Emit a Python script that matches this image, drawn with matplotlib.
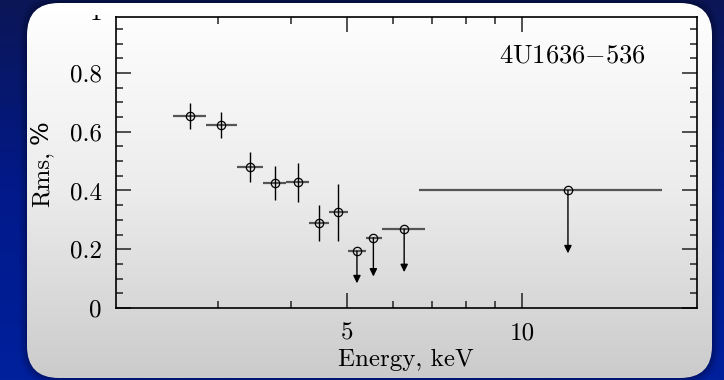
import numpy as np
import matplotlib
matplotlib.use("Agg")
from matplotlib import pyplot as plt
from matplotlib.patches import FancyBboxPatch, Rectangle
from matplotlib.colors import LinearSegmentedColormap
from matplotlib.ticker import FixedLocator, FixedFormatter, NullFormatter, MultipleLocator
from matplotlib.transforms import blended_transform_factory

# detections: energy bin (keV) and rms (%)
energy = [2.68, 3.04, 3.40, 3.76, 4.12, 4.48, 4.83]
energy_lo = [2.51, 2.86, 3.23, 3.59, 3.93, 4.30, 4.66]
energy_hi = [2.86, 3.23, 3.59, 3.93, 4.30, 4.66, 5.01]
rms = [0.654, 0.623, 0.480, 0.427, 0.429, 0.289, 0.326]
rms_lo = [0.610, 0.580, 0.429, 0.368, 0.362, 0.228, 0.229]
rms_hi = [0.697, 0.668, 0.531, 0.484, 0.495, 0.351, 0.423]

# upper limits
ul_energy = [5.20, 5.55, 6.27, 12.0]
ul_lo = [5.01, 5.38, 5.74, 6.65]
ul_hi = [5.38, 5.74, 6.81, 17.4]
ul_rms = [0.193, 0.239, 0.269, 0.400]
ul_tip = [0.084, 0.107, 0.122, 0.186]

x_major = [5, 10]
x_major_labels = ["5", "10"]
x_minor = [3, 4, 6, 7, 8, 9]
y_major = [0, 0.2, 0.4, 0.6, 0.8]
y_major_labels = ["0", "0.2", "0.4", "0.6", "0.8"]

plt.rcParams["font.family"] = "cmr10"
plt.rcParams["mathtext.fontset"] = "cm"
plt.rcParams["axes.formatter.use_mathtext"] = True
FS = 18

fig = plt.figure(figsize=(7.24, 3.8), dpi=100)

# slide background + rounded panel
bg = fig.add_axes([0, 0, 1, 1], zorder=0)
bg.set_xlim(0, 724)
bg.set_ylim(380, 0)
bg.axis("off")
grad = np.linspace(0, 1, 256).reshape(-1, 1)
blue = LinearSegmentedColormap.from_list("blue", ["#0b1656", "#02198a", "#00209c"])
bg.imshow(grad, cmap=blue, extent=(0, 724, 380, 0), aspect="auto", zorder=0)

for i, a in enumerate([0.10, 0.08, 0.06, 0.04]):
    p = 2 + 2 * i
    sh = FancyBboxPatch((27 - p, 3 - p), 685 + 2 * p, 375 + 2 * p,
                        boxstyle=f"round,pad=0,rounding_size={32 + p}",
                        fc="black", ec="none", alpha=a, zorder=1)
    bg.add_patch(sh)

panel = FancyBboxPatch((27, 3), 685, 375, boxstyle="round,pad=0,rounding_size=32",
                       fc="none", ec="none", zorder=2)
bg.add_patch(panel)
grey = LinearSegmentedColormap.from_list("grey", ["#ffffff", "#ececec", "#cbcbcb"])
im = bg.imshow(grad, cmap=grey, extent=(27, 712, 378, 3), aspect="auto", zorder=3)
im.set_clip_path(panel)

# plot
ax = fig.add_axes([0.160, 0.1895, 0.8025, 0.7655], zorder=2)
ax.patch.set_alpha(0)
ax.set_xscale("log")
ax.set_xlim(2, 20)
ax.set_ylim(0, 0.99)

e = np.array(energy)
r = np.array(rms)
ax.errorbar(e, r, xerr=[e - np.array(energy_lo), np.array(energy_hi) - e],
            fmt="none", ecolor="#555555", elinewidth=1.6, capsize=0)
ax.errorbar(e, r, yerr=[r - np.array(rms_lo), np.array(rms_hi) - r],
            fmt="none", ecolor="black", elinewidth=1.0, capsize=0)
ax.plot(e, r, "o", mfc="none", mec="black", ms=6, mew=0.9)

ue = np.array(ul_energy)
ax.errorbar(ue, ul_rms, xerr=[ue - np.array(ul_lo), np.array(ul_hi) - ue],
            fmt="none", ecolor="#555555", elinewidth=1.6, capsize=0)
for xe, y0, y1 in zip(ul_energy, ul_rms, ul_tip):
    ax.annotate("", xy=(xe, y1), xytext=(xe, y0),
                arrowprops=dict(arrowstyle="-|>,head_length=0.45,head_width=0.22",
                                color="black", lw=1.0, shrinkA=0, shrinkB=0))
ax.plot(ue, ul_rms, "o", mfc="none", mec="black", ms=6, mew=0.9)

ax.xaxis.set_major_locator(FixedLocator(x_major))
ax.xaxis.set_major_formatter(FixedFormatter(x_major_labels))
ax.xaxis.set_minor_locator(FixedLocator(x_minor))
ax.xaxis.set_minor_formatter(NullFormatter())
ax.yaxis.set_major_locator(FixedLocator(y_major))
ax.yaxis.set_major_formatter(FixedFormatter(y_major_labels))
ax.yaxis.set_minor_locator(MultipleLocator(0.05))

ax.tick_params(which="both", direction="in", top=True, right=True,
               width=1.1, color="#222222", labelsize=FS, pad=10)
ax.tick_params(which="major", length=11)
ax.tick_params(which="minor", length=5)
for s in ax.spines.values():
    s.set_linewidth(1.2)

# top tick label, cut off by the panel edge as in the slide
trans = blended_transform_factory(ax.transAxes, ax.transData)
top = fig.text(-0.024, 1.0, "1", transform=trans, ha="right", va="center",
               fontsize=FS)
top.set_clip_path(Rectangle((0, 0), 1, 1 - 15 / 380, transform=fig.transFigure))

ax.set_xlabel("Energy, keV", fontsize=FS)
ax.xaxis.set_label_coords(0.499, -0.14)

# y label in two pieces so the % sits on the baseline
ax.text(-0.108, 0.347, "Rms,", transform=ax.transAxes, rotation=90,
        ha="right", va="bottom", fontsize=FS)
ax.text(-0.108, 0.645, "%", transform=ax.transAxes, rotation=90,
        ha="right", va="top", fontsize=FS, family="DejaVu Serif")

ax.text(0.785, 0.866, r"$\mathrm{4U1636{-}536}$", transform=ax.transAxes,
        ha="center", va="center", fontsize=FS + 1)

fig.savefig("out.png", dpi=100)
